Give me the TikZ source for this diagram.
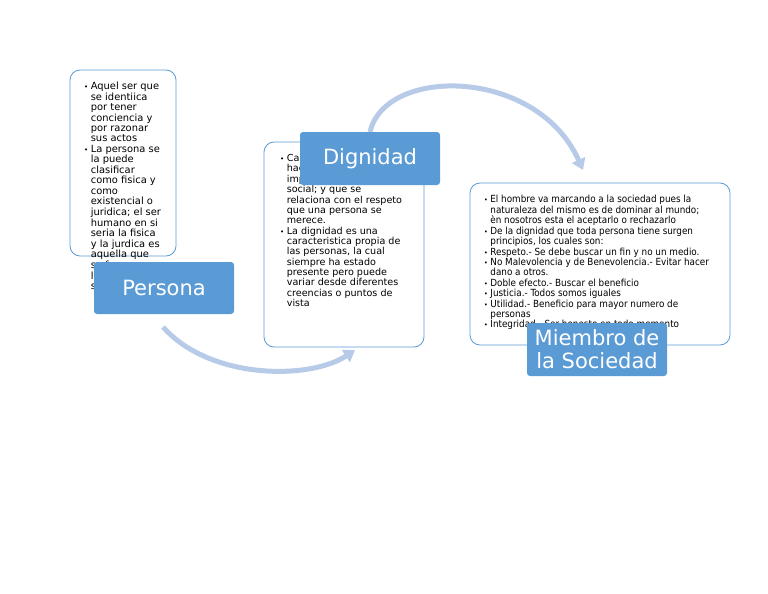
\documentclass[tikz,border=0pt]{standalone}
\usepackage{fontspec}
\setmainfont{DejaVu Sans}
\newfontfamily\condfont{DejaVu Sans Condensed}
\usetikzlibrary{arrows.meta}
\definecolor{lblue}{RGB}{91,155,213}
\definecolor{arrowc}{RGB}{183,203,232}
\tikzset{
  textbox/.style={draw=lblue, line width=0.8pt, fill=white, rounded corners=10pt, inner sep=0pt},
  labelbox/.style={fill=lblue, text=white, rounded corners=3pt, inner sep=0pt, font=\fontsize{21}{23}\selectfont, align=center},
  bodytext/.style={anchor=north west, inner sep=0pt, align=left},
  flow/.style={draw=arrowc, line width=5pt, -{Triangle[width=14pt,length=11pt]}}
}
\newcommand\bu{{\fontsize{7}{7}\selectfont\textbullet}}
\begin{document}
\begin{tikzpicture}[x=1pt,y=-1pt]
\useasboundingbox (0,0) rectangle (768,594);
% Persona
\node[textbox, minimum width=106pt, minimum height=186pt] (tb1) at (123,163) {};
\node[bodytext, font=\fontsize{9.9}{10.3}\selectfont] (t1) at (84,82) {%
\begin{tabular}{@{}l@{\hspace{2.5pt}}l@{}}
\bu & Aquel ser que\\ & se identiica\\ & por tener\\ & conciencia y\\ & por razonar\\ & sus actos\\
\bu & La persona se\\ & la puede\\ & clasificar\\ & como fisica y\\ & como\\ & existencial o\\ & juridica; el ser\\ & humano en si\\ & seria la fisica\\ & y la jurdica es\\ & aquella que\\ & se forma por\\ & la ley y la\\ & sociedad
\end{tabular}};
\node[labelbox, minimum width=140pt, minimum height=52pt] (persona) at (164,288) {Persona};
% Dignidad
\node[textbox, minimum width=160pt, minimum height=205pt] (tb2) at (344,244.5) {};
\node[bodytext, font=\fontsize{9.6}{10.3}\selectfont] (t2) at (280,154) {%
\begin{tabular}{@{}l@{\hspace{2.5pt}}l@{}}
\bu & Calidad que\\ & hace al ser\\ & importante en lo\\ & social; y que se\\ & relaciona con el respeto\\ & que una persona se\\ & merece.\\
\bu & La dignidad es una\\ & caracteristica propia de\\ & las personas, la cual\\ & siempre ha estado\\ & presente pero puede\\ & variar desde diferentes\\ & creencias o puntos de\\ & vista
\end{tabular}};
\draw[flow] (370,132) .. controls (385,66) and (537,67) .. (583,170) coordinate (e2);
\node[labelbox, minimum width=140pt, minimum height=53pt] (dignidad) at (370,158.5) {Dignidad};
% Miembro
\node[textbox, minimum width=260pt, minimum height=162pt] (tb3) at (600,264) {};
\node[bodytext, font=\condfont\fontsize{9.8}{9.9}\selectfont] (t3) at (484,195) {%
\begin{tabular}{@{}l@{\hspace{2.5pt}}l@{}}
\bu & El hombre va marcando a la sociedad pues la\\ & naturaleza del mismo es de dominar al mundo;\\ & èn nosotros esta el aceptarlo o rechazarlo\\
\bu & De la dignidad que toda persona tiene surgen\\ & principios, los cuales son:\\
\bu & Respeto.- Se debe buscar un fin y no un medio.\\
\bu & No Malevolencia y de Benevolencia.- Evitar hacer\\ & dano a otros.\\
\bu & Doble efecto.- Buscar el beneficio\\
\bu & Justicia.- Todos somos iguales\\
\bu & Utilidad.- Beneficio para mayor numero de\\ & personas\\
\bu & Integridad.- Ser honesto en todo momento
\end{tabular}};
\node[labelbox, minimum width=140pt, minimum height=53pt] (miembro) at (597,349.5) {Miembro de\\la Sociedad};
% bottom arrow
\coordinate (s1) at (163,327);
\coordinate (e1) at (355,350);
\draw[flow] (s1) .. controls (210,380) and (310,380) .. (e1);
\end{tikzpicture}
\end{document}
